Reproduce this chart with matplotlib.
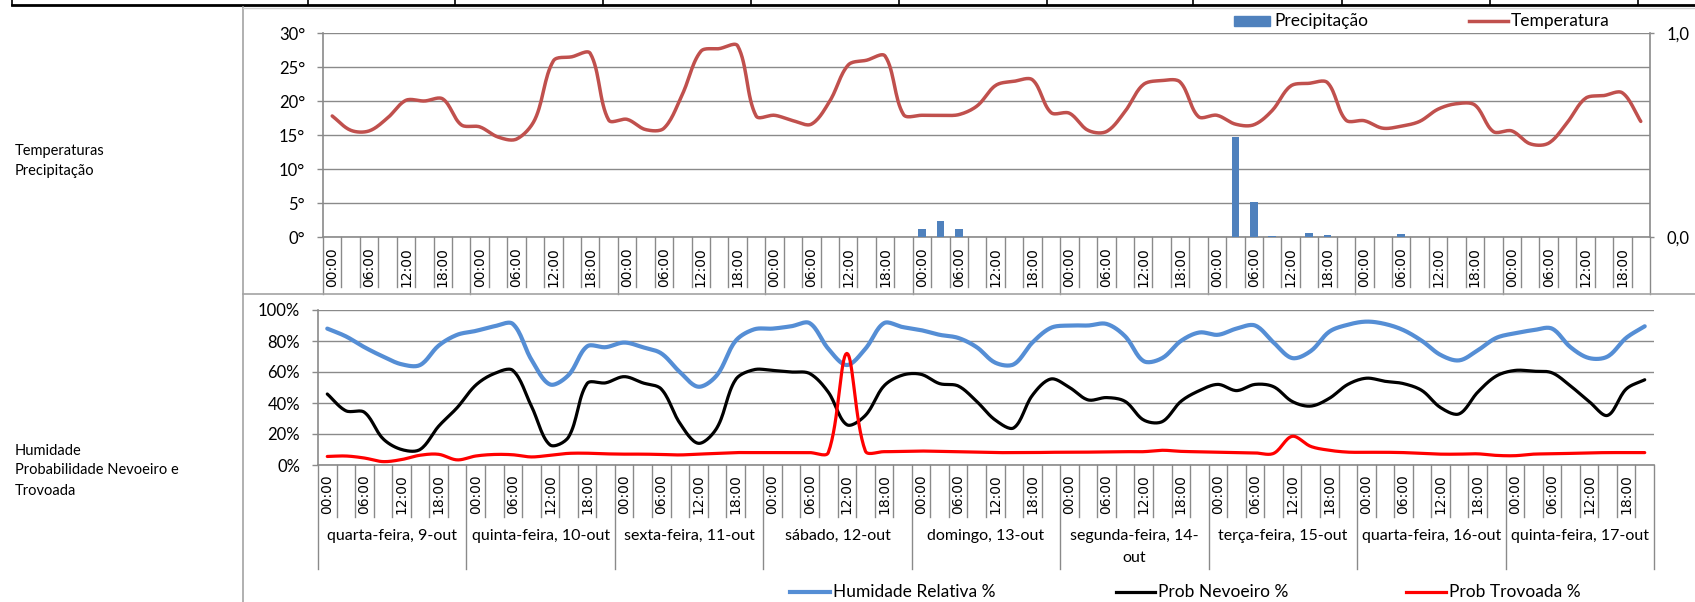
import numpy as np
import matplotlib
matplotlib.use("Agg")
import matplotlib.pyplot as plt
from matplotlib.lines import Line2D
from matplotlib.patches import Rectangle

plt.rcParams['font.family'] = ['Lato', 'DejaVu Sans']

# ---------------- data ----------------
days = ["quarta-feira, 9-out", "quinta-feira, 10-out", "sexta-feira, 11-out",
        "sábado, 12-out", "domingo, 13-out", "segunda-feira, 14-\nout",
        "terça-feira, 15-out", "quarta-feira, 16-out", "quinta-feira, 17-out"]
hour_labels = ["00:00", "06:00", "12:00", "18:00"]
slots_per_day = 8  # 3-hourly values

temperature = [
    17.8, 15.7, 15.6, 17.5, 20.1, 20.0, 20.3, 16.5,
    16.2, 14.7, 14.4, 17.3, 25.9, 26.5, 27.0, 17.2,
    17.3, 15.8, 16.0, 21.0, 27.3, 27.7, 28.1, 17.8,
    17.9, 17.1, 16.6, 20.0, 25.3, 26.0, 26.6, 18.0,
    17.9, 17.9, 18.0, 19.3, 22.3, 22.9, 23.1, 18.3,
    18.2, 15.7, 15.5, 18.4, 22.4, 23.0, 22.8, 17.7,
    17.9, 16.6, 16.5, 18.6, 22.2, 22.6, 22.7, 17.2,
    17.1, 16.0, 16.3, 17.0, 18.8, 19.6, 19.4, 15.5,
    15.6, 13.7, 13.8, 16.8, 20.4, 20.8, 21.2, 17.0,
]
precipitation = [
    0, 0, 0, 0, 0, 0, 0, 0,
    0, 0, 0, 0, 0, 0, 0, 0,
    0, 0, 0, 0, 0, 0, 0, 0,
    0, 0, 0, 0, 0, 0, 0, 0,
    0.04, 0.08, 0.04, 0, 0, 0, 0, 0,
    0, 0, 0, 0, 0, 0, 0, 0,
    0, 0.49, 0.17, 0.005, 0, 0.02, 0.01, 0,
    0, 0, 0.015, 0, 0, 0, 0, 0,
    0, 0, 0, 0, 0, 0, 0, 0,
]
humidity = [
    88, 83, 76, 70, 65, 64.5, 77, 84,
    86.5, 89.5, 91, 68, 52, 58, 76.5, 76,
    79, 76, 72, 60, 50.5, 58, 80, 87.5,
    88, 89.5, 91.5, 75, 64.5, 75, 91.5, 89,
    87, 84, 82, 76, 66, 65, 79, 88.5,
    90, 90, 91, 83, 67, 69, 80, 85.5,
    84, 88, 90, 79, 69, 73.5, 86, 90.5,
    92.5, 91, 87, 80, 71, 67.5, 74, 82,
    85, 87, 88, 76, 69, 70, 82, 89.5,
]
fog = [
    45.8, 35, 34, 17, 10, 10, 25, 37,
    51.5, 59, 61, 38, 13, 18, 52.5, 53,
    57, 53, 49, 27, 14, 24, 55, 61.5,
    61, 60, 59, 47, 26, 32, 51, 58,
    58.5, 52.5, 51, 41, 29, 24, 45, 55.5,
    50, 42, 43.5, 41, 29, 28, 41, 48,
    52, 48, 52, 50.5, 41, 38, 43, 52,
    56, 54, 52.5, 48, 37, 33, 47, 57.4,
    61, 60.5, 59.5, 51, 41, 32, 49, 55,
]
thunder = [
    5.5, 5.8, 4.5, 2.2, 3.5, 6.3, 6.9, 3.3,
    5.8, 6.8, 6.6, 5.2, 6.3, 7.5, 7.6, 7.2,
    7.0, 7.0, 6.8, 6.5, 7.0, 7.5, 8.0, 8.0,
    8.0, 8.0, 8.0, 8.0, 72, 9.0, 8.6, 8.8,
    9.0, 8.8, 8.6, 8.3, 8.0, 8.0, 8.0, 8.2,
    8.2, 8.3, 8.4, 8.6, 8.6, 9.5, 8.8, 8.5,
    8.2, 8.0, 7.8, 7.5, 18.5, 12, 9.5, 8.3,
    8.2, 8.2, 8.0, 7.5, 7.0, 7.0, 7.2, 6.2,
    6.0, 7.0, 7.2, 7.5, 7.8, 8.0, 8.0, 8.0,
]

# ---------------- helpers ----------------
W, H = 1695, 602
n = len(temperature)
xc = np.arange(n) + 0.5


def fx(px):
    return px / W


def fy(py):
    return 1 - py / H


def smooth(x, y, xs, ys, steps=16):
    """Bezier smoothing like a spreadsheet 'smoothed line' (chord-length scaled tangents)."""
    P = np.column_stack([np.asarray(x, float) * xs, np.asarray(y, float) * ys])
    m = len(P)
    out = []
    for i in range(m - 1):
        p0 = P[i - 1] if i > 0 else P[i]
        p1, p2 = P[i], P[i + 1]
        p3 = P[i + 2] if i + 2 < m else P[i + 1]
        d01 = np.hypot(*(p1 - p0))
        d12 = np.hypot(*(p2 - p1))
        d23 = np.hypot(*(p3 - p2))
        c1 = p1 + (p2 - p0) * (d12 / (d01 + d12)) / 3
        c2 = p2 - (p3 - p1) * (d12 / (d12 + d23)) / 3
        t = np.linspace(0, 1, steps, endpoint=False)[:, None]
        out.append((1 - t) ** 3 * p1 + 3 * (1 - t) ** 2 * t * c1
                   + 3 * (1 - t) * t ** 2 * c2 + t ** 3 * p2)
    out.append(P[-1:])
    S = np.vstack(out)
    return S[:, 0] / xs, S[:, 1] / ys


GRID = '#8a8a8a'
BORDER = '#a3a3a3'
FS = 12
FSL = 12.5

fig = plt.figure(figsize=(W / 100, H / 100), dpi=100)

# sheet border row at the top
fig.add_artist(Line2D([fx(12), 1], [fy(5), fy(5)], color='black', lw=2.0))
for xv in [12, 308, 455, 603, 751, 899, 1047, 1193, 1342, 1490, 1638]:
    fig.add_artist(Line2D([fx(xv)] * 2, [fy(0), fy(5)], color='black', lw=1.2))

# chart object borders
fig.add_artist(Line2D([fx(243)] * 2, [fy(7), fy(602)], color=BORDER, lw=1.2))
fig.add_artist(Line2D([fx(243), 1], [fy(7.5), fy(7.5)], color='#d0d0d0', lw=1.0))
fig.add_artist(Line2D([fx(243), 1], [fy(294), fy(294)], color=BORDER, lw=1.2))

# left sheet labels
for txt, yp in [("Temperaturas", 151), ("Precipitação", 171), ("Humidade", 451),
                ("Probabilidade Nevoeiro e", 470), ("Trovoada", 491)]:
    fig.text(fx(15), fy(yp), txt, va='center', ha='left', fontsize=10.5)


def category_axis(ax, top_px, ax_h_px, tick_end_px, day_end_px, label_bottom_px):
    tr = ax.get_xaxis_transform()
    for b in range(n + 1):
        end = day_end_px if b % slots_per_day == 0 else tick_end_px
        ax.add_line(Line2D([b, b], [0, -(end - top_px) / ax_h_px], transform=tr,
                           color=GRID, lw=1.0, clip_on=False))
    for d in range(len(days)):
        for j, lab in enumerate(hour_labels):
            ax.text(d * slots_per_day + 2 * j + 0.5, -(label_bottom_px - top_px) / ax_h_px,
                    lab, rotation=90, ha='center', va='bottom', transform=tr,
                    fontsize=10, family='DejaVu Sans')


# ---------------- top chart ----------------
ax1 = fig.add_axes([fx(323), fy(237), (1650 - 323) / W, (237 - 33) / H])
ax1.set_xlim(0, n)
ax1.set_ylim(0, 30)
ax1.set_yticks(range(0, 31, 5))
ax1.set_yticklabels([f"{v}°" for v in range(0, 31, 5)], fontsize=FS)
ax1.set_xticks([])
ax1.yaxis.grid(True, color=GRID, lw=1.0)
ax1.set_axisbelow(True)
for s in ['top', 'right']:
    ax1.spines[s].set_visible(False)
for s in ['left', 'bottom']:
    ax1.spines[s].set_color(GRID)
    ax1.spines[s].set_linewidth(1.2)
ax1.tick_params(axis='y', direction='out', length=4.3, width=1.0, color=GRID, pad=8.6)
ax1.patch.set_alpha(0)

ax2 = ax1.twinx()
ax2.set_xlim(0, n)
ax2.set_ylim(0, 1.0)
ax2.set_yticks([0, 1.0])
ax2.set_yticklabels(["0,0", "1,0"], fontsize=FS)
for s in ['top', 'left', 'bottom']:
    ax2.spines[s].set_visible(False)
ax2.spines['right'].set_color(GRID)
ax2.spines['right'].set_linewidth(1.2)
ax2.tick_params(axis='y', direction='out', length=3, width=1.0, color=GRID, pad=8.6)
ax2.bar(xc, precipitation, width=0.41, color='#4F81BD', zorder=2)

tx, ty = smooth(xc, temperature, 18.43, 6.8)
ax2.plot(tx, np.array(ty) / 30.0, color='#C0504D', lw=2.5,
         solid_capstyle='round', solid_joinstyle='round', zorder=3)

category_axis(ax1, 237, 204, 287, 294, 287)

# top legend
fig.add_artist(Rectangle((fx(1234), fy(26)), 36 / W, 10 / H, color='#4F81BD',
                         transform=fig.transFigure))
fig.text(fx(1274), fy(21), "Precipitação", va='center', ha='left', fontsize=FSL)
fig.add_artist(Line2D([fx(1469), fx(1508)], [fy(20.5)] * 2, color='#C0504D', lw=2.5))
fig.text(fx(1511), fy(21), "Temperatura", va='center', ha='left', fontsize=FSL)

# ---------------- bottom chart ----------------
ax3 = fig.add_axes([fx(318), fy(465), (1654 - 318) / W, (465 - 310) / H])
ax3.set_xlim(0, n)
ax3.set_ylim(0, 100)
ax3.set_yticks(range(0, 101, 20))
ax3.set_yticklabels([f"{v}%" for v in range(0, 101, 20)], fontsize=FS)
ax3.set_xticks([])
ax3.yaxis.grid(True, color=GRID, lw=1.0)
ax3.set_axisbelow(True)
for s in ['top', 'right']:
    ax3.spines[s].set_visible(False)
for s in ['left', 'bottom']:
    ax3.spines[s].set_color(GRID)
    ax3.spines[s].set_linewidth(1.2)
ax3.tick_params(axis='y', direction='out', length=4.3, width=1.0, color=GRID, pad=8.6)
ax3.patch.set_alpha(0)

for series, col, lw in [(humidity, '#558ED5', 3.0), (fog, 'black', 2.3), (thunder, '#FF0000', 2.3)]:
    hx, hy = smooth(xc, series, 18.55, 1.55)
    ax3.plot(hx, hy, color=col, lw=lw, solid_capstyle='round', solid_joinstyle='round')

category_axis(ax3, 465, 155, 517, 569, 514)
tr3 = ax3.get_xaxis_transform()
for d, lab in enumerate(days):
    ax3.text(d * slots_per_day + slots_per_day / 2, -(529 - 465) / 155, lab,
             ha='center', va='top', transform=tr3, fontsize=11.5, linespacing=1.75)

# bottom legend
for x0, x1, col, lw, lab in [(790, 830, '#558ED5', 3.0, "Humidade Relativa %"),
                             (1116, 1155, 'black', 2.3, "Prob Nevoeiro %"),
                             (1406, 1446, '#FF0000', 2.3, "Prob Trovoada %")]:
    fig.add_artist(Line2D([fx(x0), fx(x1)], [fy(592)] * 2, color=col, lw=lw))
    fig.text(fx(x1 + 3), fy(592), lab, va='center', ha='left', fontsize=FSL)

fig.savefig("out.png", dpi=100)
